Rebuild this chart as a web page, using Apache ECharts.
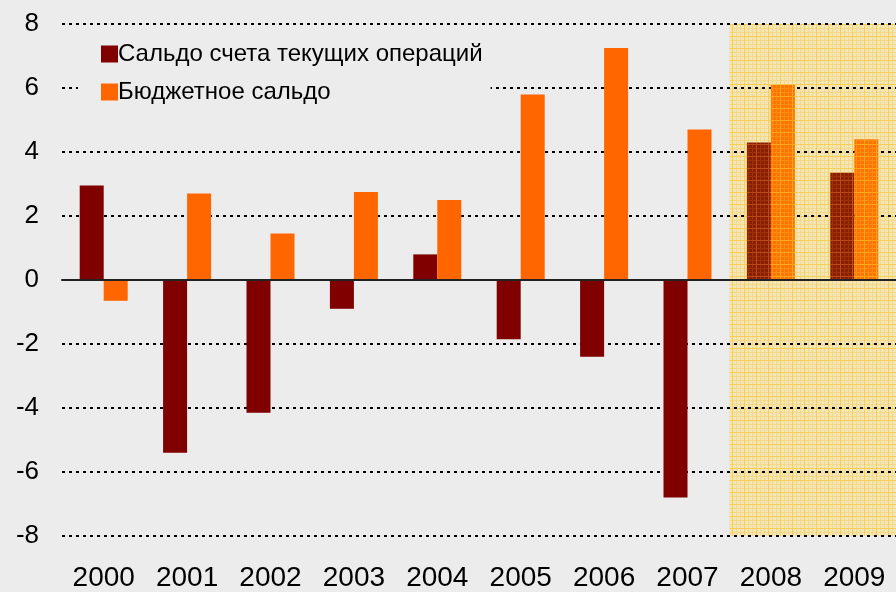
<!DOCTYPE html>
<html>
<head>
<meta charset="utf-8">
<script src="https://cdn.jsdelivr.net/npm/echarts@6/dist/echarts.min.js"></script>
<style>
  html, body { margin: 0; padding: 0; background: #ececec; }
  #main { width: 896px; height: 592px; }
</style>
</head>
<body>
<div id="main"></div>
<script>
// данные
var years = ['2000', '2001', '2002', '2003', '2004', '2005', '2006', '2007', '2008', '2009']
var currentAccount = [2.95, -5.4, -4.15, -0.9, 0.8, -1.85, -2.4, -6.8, 4.3, 3.35]
var budgetBalance = [-0.65, 2.7, 1.45, 2.75, 2.5, 5.8, 7.25, 4.7, 6.1, 4.4]
var forecastFrom = 8 // 2008-2009 прогноз
var seriesNames = ['Сальдо счета текущих операций', 'Бюджетное сальдо']

// клетчатая текстура
function makePattern(base, line, fine) {
  var c = document.createElement('canvas')
  c.width = 12
  c.height = 12
  var ctx = c.getContext('2d')
  ctx.fillStyle = base
  ctx.fillRect(0, 0, 12, 12)
  ctx.fillStyle = fine
  ctx.fillRect(0, 4, 12, 1)
  ctx.fillRect(0, 8, 12, 1)
  ctx.fillRect(4, 0, 1, 12)
  ctx.fillRect(8, 0, 1, 12)
  ctx.fillStyle = line
  ctx.fillRect(0, 0, 12, 1)
  ctx.fillRect(0, 0, 1, 12)
  return c
}
var areaPattern = makePattern('#f2e5b8', '#f7cf55', '#f4da88')
var redPattern = makePattern('#8a1e00', '#bb4a1a', '#a0300a')
var orangePattern = makePattern('#ff7400', '#ffa61e', '#ff8c10')

function styled(values, forecastColor) {
  return values.map(function (v, i) {
    if (i >= forecastFrom) {
      return { value: v, itemStyle: { color: { image: forecastColor, repeat: 'repeat' } } }
    }
    return v
  })
}

var font = 'Liberation Sans, Arial, sans-serif'
var myChart = echarts.init(document.getElementById('main'))
myChart.setOption({
  backgroundColor: '#ececec',
  animation: false,
  grid: { left: 62, right: 0, top: 24, bottom: 56 },
  legend: {
    orient: 'vertical',
    left: 78,
    top: 35,
    padding: [7, 8, 7, 23],
    backgroundColor: '#ececec',
    icon: 'rect',
    itemWidth: 17,
    itemHeight: 17,
    itemGap: 14,
    data: seriesNames,
    textStyle: { fontSize: 24, color: '#000', fontFamily: font, padding: [0, 0, 0, -5] }
  },
  xAxis: [
    {
      type: 'category',
      data: years,
      z: 3,
      axisLine: { onZero: true, lineStyle: { color: '#222', width: 2 } },
      axisTick: { inside: true, length: 9, lineStyle: { color: '#444', width: 2 } },
      axisLabel: { show: false }
    },
    {
      type: 'category',
      data: years,
      position: 'bottom',
      axisLine: { show: false, onZero: false },
      axisTick: { show: false },
      axisLabel: { margin: 28, fontSize: 28, color: '#000', fontFamily: font }
    },
    {
      type: 'value',
      min: -0.5,
      max: years.length - 0.5,
      show: false
    }
  ],
  yAxis: {
    type: 'value',
    min: -8,
    max: 8,
    interval: 2,
    z: 1.5,
    axisLine: { show: false },
    axisTick: { show: false },
    axisLabel: { margin: 23, fontSize: 26, color: '#000', fontFamily: font },
    splitLine: { lineStyle: { color: '#000', width: 2, type: [3, 4] } }
  },
  series: [
    {
      name: 'forecast',
      type: 'line',
      xAxisIndex: 2,
      data: [],
      z: 1,
      silent: true,
      markArea: {
        silent: true,
        itemStyle: { color: { image: areaPattern, repeat: 'repeat' } },
        data: [[{ xAxis: forecastFrom - 0.5, yAxis: -8 }, { xAxis: years.length - 0.5, yAxis: 8 }]]
      }
    },
    {
      name: seriesNames[0],
      type: 'bar',
      barWidth: 24,
      barGap: '0%',
      z: 2,
      itemStyle: { color: '#800000' },
      data: styled(currentAccount, redPattern)
    },
    {
      name: seriesNames[1],
      type: 'bar',
      barWidth: 24,
      barGap: '0%',
      z: 2,
      itemStyle: { color: '#ff6600' },
      data: styled(budgetBalance, orangePattern)
    }
  ]
})
</script>
</body>
</html>
